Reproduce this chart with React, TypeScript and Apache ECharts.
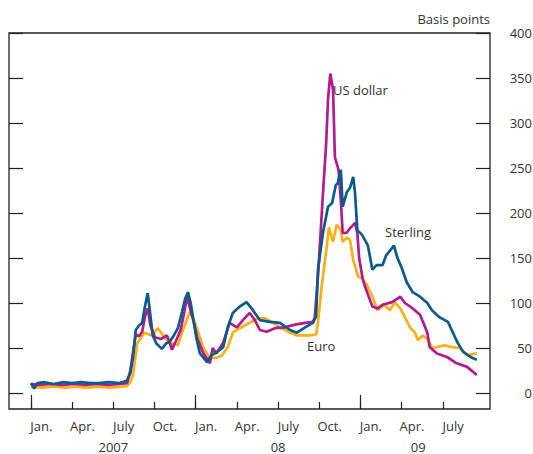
import React, { useEffect, useRef } from "react";
import * as echarts from "echarts";

// Dates (YYYY-MM-DD) and values in basis points
const sterlingDates = [
  "2007-01-01", "2007-01-08", "2007-01-15", "2007-02-01", "2007-02-20", "2007-03-10", "2007-04-01", "2007-04-20",
  "2007-05-10", "2007-06-01", "2007-06-20", "2007-07-15", "2007-08-01", "2007-08-08", "2007-08-14", "2007-08-20",
  "2007-08-27", "2007-09-04", "2007-09-10", "2007-09-16", "2007-09-21", "2007-09-27", "2007-10-05", "2007-10-17",
  "2007-10-26", "2007-11-04", "2007-11-12", "2007-11-22", "2007-12-01", "2007-12-08", "2007-12-14", "2007-12-20",
  "2007-12-26", "2008-01-02", "2008-01-10", "2008-01-17", "2008-01-26", "2008-02-05", "2008-02-16", "2008-03-01",
  "2008-03-11", "2008-03-22", "2008-04-07", "2008-04-22", "2008-05-06", "2008-05-21", "2008-06-13", "2008-07-05",
  "2008-07-27", "2008-08-12", "2008-08-30", "2008-09-17", "2008-09-24", "2008-09-28", "2008-10-09", "2008-10-20",
  "2008-10-29", "2008-11-07", "2008-11-11", "2008-11-18", "2008-11-22", "2008-12-01", "2008-12-08", "2008-12-15",
  "2008-12-19", "2008-12-24", "2009-01-04", "2009-01-17", "2009-01-27", "2009-02-06", "2009-02-19", "2009-02-27",
  "2009-03-10", "2009-03-14", "2009-03-21", "2009-04-01", "2009-04-12", "2009-04-25", "2009-05-11", "2009-05-27",
  "2009-06-07", "2009-06-24", "2009-07-12", "2009-07-23", "2009-08-03", "2009-08-15", "2009-08-31", "2009-09-15",
];
const sterlingValues = [
  11, 5, 11, 12, 10, 12, 11, 12,
  11, 11, 12, 11, 14, 22, 40, 70,
  75, 78, 96, 111, 90, 64, 55, 49,
  55, 57, 63, 72, 90, 105, 112, 100,
  81, 62, 44, 40, 34, 42, 45, 51,
  73, 89, 96, 101, 92, 81, 79, 78,
  70, 67, 73, 78, 85, 137, 178, 207,
  211, 231, 233, 248, 207, 223, 228, 240,
  222, 181, 176, 164, 137, 142, 142, 153,
  161, 164, 151, 139, 123, 112, 107, 100,
  92, 84, 79, 67, 56, 46, 40, 37,
];

const usDollarDates = [
  "2007-01-01", "2007-01-20", "2007-02-15", "2007-03-10", "2007-04-05", "2007-05-01", "2007-05-25", "2007-06-20",
  "2007-07-15", "2007-07-31", "2007-08-08", "2007-08-14", "2007-08-20", "2007-08-27", "2007-09-04", "2007-09-10",
  "2007-09-16", "2007-09-22", "2007-10-02", "2007-10-15", "2007-10-28", "2007-11-05", "2007-11-09", "2007-11-18",
  "2007-11-28", "2007-12-06", "2007-12-12", "2007-12-18", "2007-12-26", "2008-01-05", "2008-01-17", "2008-02-02",
  "2008-02-08", "2008-02-16", "2008-03-01", "2008-03-15", "2008-04-01", "2008-04-14", "2008-04-29", "2008-05-10",
  "2008-05-21", "2008-06-06", "2008-06-24", "2008-07-16", "2008-08-08", "2008-08-30", "2008-09-17", "2008-09-21",
  "2008-09-28", "2008-10-09", "2008-10-16", "2008-10-20", "2008-10-25", "2008-11-01", "2008-11-05", "2008-11-13",
  "2008-11-18", "2008-11-22", "2008-12-01", "2008-12-08", "2008-12-19", "2008-12-24", "2008-12-28", "2009-01-06",
  "2009-01-11", "2009-01-27", "2009-02-08", "2009-02-19", "2009-03-10", "2009-03-28", "2009-04-08", "2009-04-25",
  "2009-05-11", "2009-05-27", "2009-06-02", "2009-06-18", "2009-07-10", "2009-08-01", "2009-08-24", "2009-09-15",
];
const usDollarValues = [
  10, 9, 10, 9, 10, 9, 10, 9,
  10, 11, 25, 45, 65, 63, 68, 85,
  94, 75, 62, 60, 64, 55, 48, 58,
  70, 90, 107, 95, 80, 60, 45, 33,
  50, 44, 56, 78, 73, 81, 89, 81,
  70, 68, 72, 73, 76, 78, 79, 84,
  129, 222, 278, 326, 355, 337, 262, 248,
  214, 178, 178, 183, 189, 178, 150, 126,
  118, 96, 94, 98, 101, 107, 100, 94,
  87, 67, 51, 44, 40, 33, 29, 20,
];

const euroDates = [
  "2007-01-01", "2007-01-25", "2007-02-20", "2007-03-15", "2007-04-10", "2007-05-05", "2007-06-01", "2007-06-25",
  "2007-07-20", "2007-07-31", "2007-08-08", "2007-08-14", "2007-08-23", "2007-09-09", "2007-09-25", "2007-10-08",
  "2007-10-24", "2007-11-09", "2007-11-22", "2007-12-03", "2007-12-18", "2007-12-29", "2008-01-10", "2008-01-17",
  "2008-02-02", "2008-02-16", "2008-02-29", "2008-03-11", "2008-03-22", "2008-04-07", "2008-04-29", "2008-05-17",
  "2008-06-02", "2008-06-17", "2008-07-05", "2008-07-23", "2008-08-12", "2008-09-10", "2008-09-24", "2008-09-28",
  "2008-10-06", "2008-10-18", "2008-10-22", "2008-11-01", "2008-11-09", "2008-11-18", "2008-11-22", "2008-12-01",
  "2008-12-08", "2008-12-15", "2008-12-26", "2009-01-04", "2009-01-15", "2009-01-27", "2009-02-08", "2009-02-23",
  "2009-03-05", "2009-03-16", "2009-03-28", "2009-04-08", "2009-04-19", "2009-04-30", "2009-05-06", "2009-05-18",
  "2009-05-29", "2009-06-07", "2009-06-18", "2009-07-05", "2009-07-21", "2009-08-08", "2009-08-24", "2009-09-15",
];
const euroValues = [
  7, 6, 7, 6, 7, 6, 7, 6,
  7, 8, 12, 20, 55, 67, 64, 72,
  61, 55, 53, 70, 90, 78, 62, 51,
  39, 39, 42, 51, 67, 72, 78, 83,
  83, 79, 73, 68, 64, 64, 65, 78,
  118, 166, 184, 168, 187, 181, 168, 173,
  170, 148, 129, 128, 120, 107, 92, 98,
  92, 101, 94, 84, 73, 67, 59, 64,
  59, 50, 51, 53, 51, 50, 42, 44,
];

const Y_MIN = 0;
const Y_MAX = 400;
const Y_INTERVAL = 50;
const monthNames = ["Jan.", "Apr.", "July", "Oct."];
const quarterTicks = [0, 3, 6, 9, 12, 15, 18, 21, 24, 27, 30]; // months since Jan 2007
const yearTicks = [0, 12, 24];
const yearLabels = ["2007", "08", "09"];
const yearLabelPos = [6, 18, 28.2];

const toMonth = (d: string) => {
  const [y, mo, da] = d.split("-").map(Number);
  return (y - 2007) * 12 + (mo - 1) + (da - 1) / 30;
};
const pairs = (dates: string[], vals: number[]) => dates.map((d, i) => [toMonth(d), vals[i]]);

const FONT = "'Open Sans', 'Noto Sans', sans-serif";
const TXT = "#333";
const X_MIN = -1.6;
const X_MAX = 33.43;
const LABEL_SHIFT = 0.75;
const TICK = { color: "#222", width: 1.2 };
const PLOT_W = 533 - 9 - 43;

export default function App() {
  const ref = useRef<HTMLDivElement>(null);
  useEffect(() => {
    if (!ref.current) return;
    const chart = echarts.init(ref.current, undefined, { renderer: "svg" });
    const baseX = {
      type: "value",
      min: X_MIN,
      max: X_MAX,
      gridIndex: 0,
      position: "bottom",
      splitLine: { show: false },
      axisLine: { show: false },
    };
    const baseY = {
      type: "value",
      gridIndex: 1,
      min: Y_MIN,
      max: Y_MAX,
      interval: Y_INTERVAL,
      splitLine: { show: false },
      axisLine: { show: false },
    };
    chart.setOption({
      animation: false,
      grid: [
        {
          left: 9,
          right: 43,
          top: 33,
          bottom: 45,
          containLabel: false,
          outerBoundsMode: "none",
          show: true,
          borderColor: "#222",
          borderWidth: 1.3,
          backgroundColor: "transparent",
        },
        {
          left: 9,
          right: 43,
          top: 33,
          bottom: 61,
          containLabel: false,
          outerBoundsMode: "none",
          show: false,
        },
      ],
      xAxis: [
        {
          ...baseX,
          axisTick: { show: true, inside: true, length: 7, customValues: quarterTicks, lineStyle: TICK },
          axisLabel: {
            show: true,
            customValues: quarterTicks.map((q) => q + LABEL_SHIFT),
            formatter: (v: number) => monthNames[(Math.round(v - LABEL_SHIFT) % 12) / 3],
            color: TXT,
            fontFamily: FONT,
            fontSize: 13,
            margin: 10,
          },
        },
        {
          ...baseX,
          axisTick: { show: true, inside: true, length: 14, customValues: yearTicks, lineStyle: TICK },
          axisLabel: {
            show: true,
            customValues: yearLabelPos,
            formatter: (v: number) => yearLabels[yearLabelPos.indexOf(v)] ?? "",
            color: TXT,
            fontFamily: FONT,
            fontSize: 13,
            margin: 31,
          },
        },
        {
          ...baseX,
          gridIndex: 1,
          axisTick: { show: false },
          axisLabel: { show: false },
        },
      ],
      yAxis: [
        {
          ...baseY,
          position: "right",
          axisTick: { show: false },
          axisLabel: {
            show: true,
            align: "right",
            margin: 42,
            color: TXT,
            fontFamily: FONT,
            fontSize: 13,
          },
        },
        {
          ...baseY,
          position: "left",
          axisTick: { show: true, inside: true, length: 14, lineStyle: TICK },
          axisLabel: { show: false },
        },
        {
          ...baseY,
          position: "left",
          offset: -PLOT_W,
          axisTick: { show: true, inside: false, length: 14, lineStyle: TICK },
          axisLabel: { show: false },
        },
        {
          type: "value",
          gridIndex: 0,
          min: 0,
          max: 1,
          show: false,
        },
      ],
      series: [
        {
          name: "Euro",
          type: "line",
          xAxisIndex: 2,
          yAxisIndex: 0,
          data: pairs(euroDates, euroValues),
          showSymbol: false,
          lineStyle: { color: "#fbaf17", width: 2.7 },
          itemStyle: { color: "#fbaf17" },
          z: 2,
        },
        {
          name: "US dollar",
          type: "line",
          xAxisIndex: 2,
          yAxisIndex: 0,
          data: pairs(usDollarDates, usDollarValues),
          showSymbol: false,
          lineStyle: { color: "#b31b8d", width: 2.7 },
          itemStyle: { color: "#b31b8d" },
          z: 3,
        },
        {
          name: "Sterling",
          type: "line",
          xAxisIndex: 2,
          yAxisIndex: 0,
          data: pairs(sterlingDates, sterlingValues),
          showSymbol: false,
          lineStyle: { color: "#0a5a8c", width: 2.7 },
          itemStyle: { color: "#0a5a8c" },
          z: 4,
        },
      ],
      graphic: [
        { type: "text", right: 43, top: 12, style: { text: "Basis points", fill: TXT, font: `13px ${FONT}` } },
        { type: "text", left: 333, top: 83, style: { text: "US dollar", fill: TXT, font: `13px ${FONT}` } },
        { type: "text", left: 385, top: 225, style: { text: "Sterling", fill: TXT, font: `13px ${FONT}` } },
        { type: "text", left: 307, top: 339, style: { text: "Euro", fill: TXT, font: `13px ${FONT}` } },
      ],
    });
    return () => chart.dispose();
  }, []);
  return (
    <div
      ref={ref}
      style={{ position: "absolute", left: 0, top: 0, width: 533, height: 454, background: "#fff" }}
    />
  );
}
